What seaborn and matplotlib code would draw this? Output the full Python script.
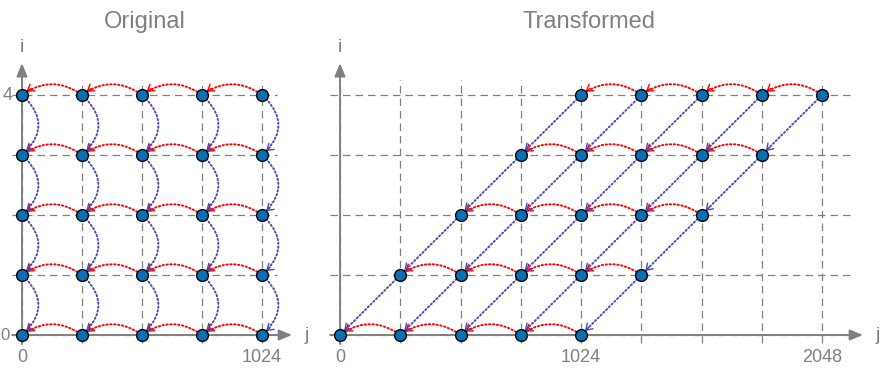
import numpy as np
import pandas as pd
import matplotlib
matplotlib.use("Agg")
import matplotlib.pyplot as plt
import seaborn as sns

# grid of iterations (j columns, i rows)
j_vals = [0, 256, 512, 768, 1024]
i_vals = [0, 1, 2, 3, 4]
skew = 256  # shift per row in the transformed space

orig_xticks = [0, 1024]
orig_yticks = [0, 4]
trans_xticks = [0, 1024, 2048]
trans_grid_x = [0, 256, 512, 768, 1024, 1280, 1536, 1792, 2048]

sns.set_style("white")
plt.rcParams['font.family'] = ['Liberation Sans', 'DejaVu Sans']

GREY = "#808080"
RED = "#ff0000"
BLUE = "#4b4bb0"
FILL = "#0a6fb5"
DOT = (0, (0.7, 1.3))

fig = plt.figure(figsize=(8.86, 3.68), dpi=100)

# axes placed so that one grid step is ~60 px in both panels
ax1 = fig.add_axes([0, 0, 300 / 886, 1])
ax1.set_xlim((0 - 22) / 60 * 256, (300 - 22) / 60 * 256)
ax1.set_ylim((335 - 368) / 60, 335 / 60)

ax2 = fig.add_axes([320 / 886, 0, 566 / 886, 1])
ax2.set_xlim((320 - 340) / 60.25 * 256, (886 - 340) / 60.25 * 256)
ax2.set_ylim((335 - 368) / 60, 335 / 60)

for ax in (ax1, ax2):
    ax.axis("off")


def dep(ax, a, b, rad, color):
    # dotted body
    ax.annotate("", xy=b, xytext=a,
                arrowprops=dict(arrowstyle="-", linestyle=DOT, color=color, lw=1.4,
                                capstyle="round", connectionstyle=f"arc3,rad={rad}",
                                shrinkA=4, shrinkB=4), zorder=3)
    # solid head, oriented along the end tangent of the arc
    pa, pb = ax.transData.transform([a, b])
    d = pb - pa
    c = (pa + pb) / 2 + rad * np.array([d[1], -d[0]])
    t = c - pb
    t = t / np.hypot(*t)
    tail = ax.transData.inverted().transform(pb + t * 11)
    ax.annotate("", xy=b, xytext=tail,
                arrowprops=dict(arrowstyle="->,head_length=0.36,head_width=0.24",
                                mutation_scale=12, color=color, lw=1.0,
                                shrinkA=0, shrinkB=4), zorder=4)


def frame(ax, x_right, grid_x, grid_right, xticks, title, title_x):
    dash = dict(color=GREY, lw=0.9, linestyle=(0, (6, 4)), zorder=1)
    ax.vlines(grid_x, -0.13, 4.25, **dash)
    ax.hlines(i_vals, -42, grid_right, **dash)
    arrow = dict(arrowstyle="-|>,head_length=0.65,head_width=0.27", mutation_scale=12,
                 color=GREY, lw=1.4, shrinkA=0, shrinkB=0)
    ax.annotate("", xy=(x_right, 0), xytext=(-42, 0), arrowprops=arrow, zorder=2)
    ax.annotate("", xy=(0, 4.53), xytext=(0, -0.15), arrowprops=arrow, zorder=2)
    ax.text(x_right + 62, 0, "j", color=GREY, fontsize=14, ha="center", va="center")
    ax.text(0, 4.8, "i", color=GREY, fontsize=14, ha="center", va="center")
    for xt in xticks:
        ax.text(xt, -0.37, str(xt), color=GREY, fontsize=13, ha="center", va="center")
    ax.text(title_x, 5.22, title, color=GREY, fontsize=17, ha="center", va="center")


# ---- Original ----
frame(ax1, 1152, j_vals, 1088, orig_xticks, "Original", 525)
ax1.text(-38, 4, str(orig_yticks[1]), color=GREY, fontsize=13, ha="right", va="center")
ax1.text(-54, 0, str(orig_yticks[0]), color=GREY, fontsize=12, ha="right", va="center")

for i in i_vals:
    for j0, j1 in zip(j_vals[:-1], j_vals[1:]):
        dep(ax1, (j1, i), (j0, i), 0.36, RED)
for j in j_vals:
    for i0, i1 in zip(i_vals[:-1], i_vals[1:]):
        dep(ax1, (j, i1), (j, i0), -0.55, BLUE)

orig = pd.DataFrame([(j, i) for i in i_vals for j in j_vals], columns=["j", "i"])
sns.scatterplot(data=orig, x="j", y="i", ax=ax1, s=72, color=FILL,
                edgecolor="black", linewidth=1.0, zorder=5, legend=False)

# ---- Transformed ----
frame(ax2, 2222, trans_grid_x, 2170, trans_xticks, "Transformed", 1060)

for i in i_vals:
    for j0, j1 in zip(j_vals[:-1], j_vals[1:]):
        dep(ax2, (j1 + skew * i, i), (j0 + skew * i, i), 0.36, RED)
for j in j_vals:
    for i0, i1 in zip(i_vals[:-1], i_vals[1:]):
        dep(ax2, (j + skew * i1, i1), (j + skew * i0, i0), 0.0, BLUE)

trans = pd.DataFrame([(j + skew * i, i) for i in i_vals for j in j_vals], columns=["j", "i"])
sns.scatterplot(data=trans, x="j", y="i", ax=ax2, s=72, color=FILL,
                edgecolor="black", linewidth=1.0, zorder=5, legend=False)

fig.savefig("out.png", dpi=100)
